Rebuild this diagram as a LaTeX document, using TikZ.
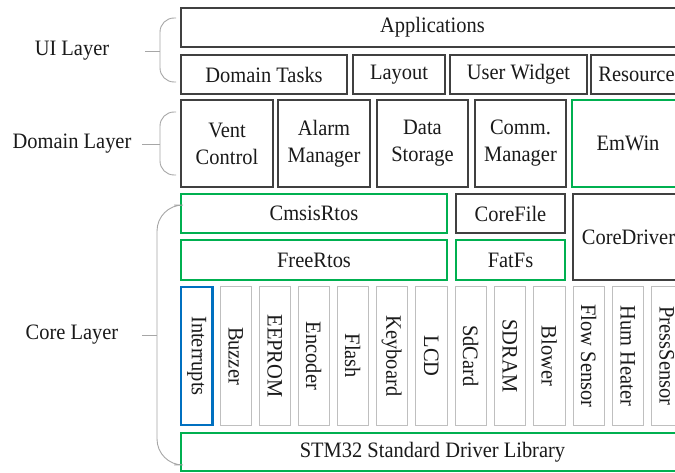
\documentclass[tikz,border=0pt]{standalone}
\usepackage{fontspec}
\setmainfont{Liberation Serif}[FakeStretch=0.93]
\usepackage{graphicx}
\definecolor{ink}{HTML}{1A1A1A}
\definecolor{frame}{HTML}{404040}
\definecolor{pale}{HTML}{BFBFBF}
\definecolor{rtosgreen}{HTML}{00B050}
\definecolor{irqblue}{HTML}{0070C0}
\definecolor{bracegray}{HTML}{A6A6A6}

% block: style, name, x1, y1, x2, y2, text
\newcommand\mkblock[7]{%
  \node[#1, minimum width={(#5-#3)*1pt}, minimum height={(#6-#4)*1pt}]
    (#2) at ({(#3+#5)/2},{(#4+#6)/2}) {#7};}
% vertical driver block: style, name, left x, text
\newcommand\mkdrv[4]{%
  \mkblock{#1}{#2}{#3}{287}{#3+31.5}{425}{\rotatebox{-90}{#4}}}

\tikzset{
  lbl/.style={font=\fontsize{22}{27}\selectfont, text=ink, inner sep=0pt, align=center},
  blk/.style={lbl, draw=frame, line width=1.1pt, rectangle},
  gblk/.style={blk, draw=rtosgreen, line width=2.2pt},
  bblk/.style={blk, draw=irqblue, line width=2.2pt},
  pblk/.style={blk, draw=pale, line width=1pt},
  bracket/.style={draw=bracegray, line width=0.9pt},
}

\begin{document}
\begin{tikzpicture}[x=1pt, y=-1pt]
\useasboundingbox (0,0) rectangle (675,473);
\clip (0,0) rectangle (675,473);
\fill[white] (0,0) rectangle (675,473);

% UI layer
\mkblock{blk}{apps}{181}{8}{684}{47}{Applications}
\mkblock{blk}{tasks}{181}{55}{347}{94}{Domain Tasks}
\mkblock{blk}{layout}{353}{55}{445}{94}{Layout}
\mkblock{blk}{widget}{450}{55}{587}{94}{User Widget}
\mkblock{blk}{res}{591}{55}{690}{94}{Resources}

% Domain layer
\mkblock{blk}{vent}{181}{100}{273}{187}{Vent\\Control}
\mkblock{blk}{alarm}{278}{100}{370}{187}{Alarm\\Manager}
\mkblock{blk}{data}{377}{100}{468}{187}{Data\\Storage}
\mkblock{blk}{comm}{475}{100}{566}{187}{Comm.\\Manager}
\mkblock{gblk}{emwin}{572}{100}{684}{187}{EmWin}

% Core layer
\mkblock{gblk}{cmsis}{181}{194}{447}{233}{CmsisRtos}
\mkblock{blk}{corefile}{456}{194}{565}{233}{CoreFile}
\mkblock{blk}{coredrv}{573}{194}{684}{280}{CoreDriver}
\mkblock{gblk}{freertos}{181}{240}{447}{280}{FreeRtos}
\mkblock{gblk}{fatfs}{456}{240}{565}{280}{FatFs}

\mkdrv{bblk}{irq}{181}{Interrupts}
\mkdrv{pblk}{buzzer}{220}{Buzzer}
\mkdrv{pblk}{eeprom}{259}{EEPROM}
\mkdrv{pblk}{encoder}{298}{Encoder}
\mkdrv{pblk}{flash}{337}{Flash}
\mkdrv{pblk}{keyboard}{376}{Keyboard}
\mkdrv{pblk}{lcd}{415.5}{LCD}
\mkdrv{pblk}{sdcard}{455}{SdCard}
\mkdrv{pblk}{sdram}{494}{SDRAM}
\mkdrv{pblk}{blower}{533.5}{Blower}
\mkdrv{pblk}{flow}{573}{Flow Sensor}
\mkdrv{pblk}{hum}{612}{Hum Heater}
\mkdrv{pblk}{press}{651}{PressSensor}

\mkblock{gblk}{stdlib}{181}{433}{684}{471}{STM32 Standard Driver Library}

% layer captions
\node[lbl] (uiL) at (72,51) {UI Layer};
\node[lbl] (domL) at (72,144) {Domain Layer};
\node[lbl] (coreL) at (72,335) {Core Layer};

% braces grouping each layer
\draw[bracket, rounded corners=14pt] (176,18) -- (160,18) -- (160,82) -- (176,82);
\draw[bracket, rounded corners=14pt] (176,112) -- (160,112) -- (160,175) -- (176,175);
\draw[bracket, rounded corners=26pt] (174,205) -- (157,205) -- (157,465) -- (174,465);

\coordinate (uiTip) at (160,51);
\coordinate (uiStub) at (145,51);
\coordinate (domTip) at (160,144);
\coordinate (domStub) at (142,144);
\coordinate (coreTip) at (157,335);
\coordinate (coreStub) at (142,335);
\draw[bracket] (uiStub) -- (uiTip);
\draw[bracket] (domStub) -- (domTip);
\draw[bracket] (coreStub) -- (coreTip);
\end{tikzpicture}
\end{document}
